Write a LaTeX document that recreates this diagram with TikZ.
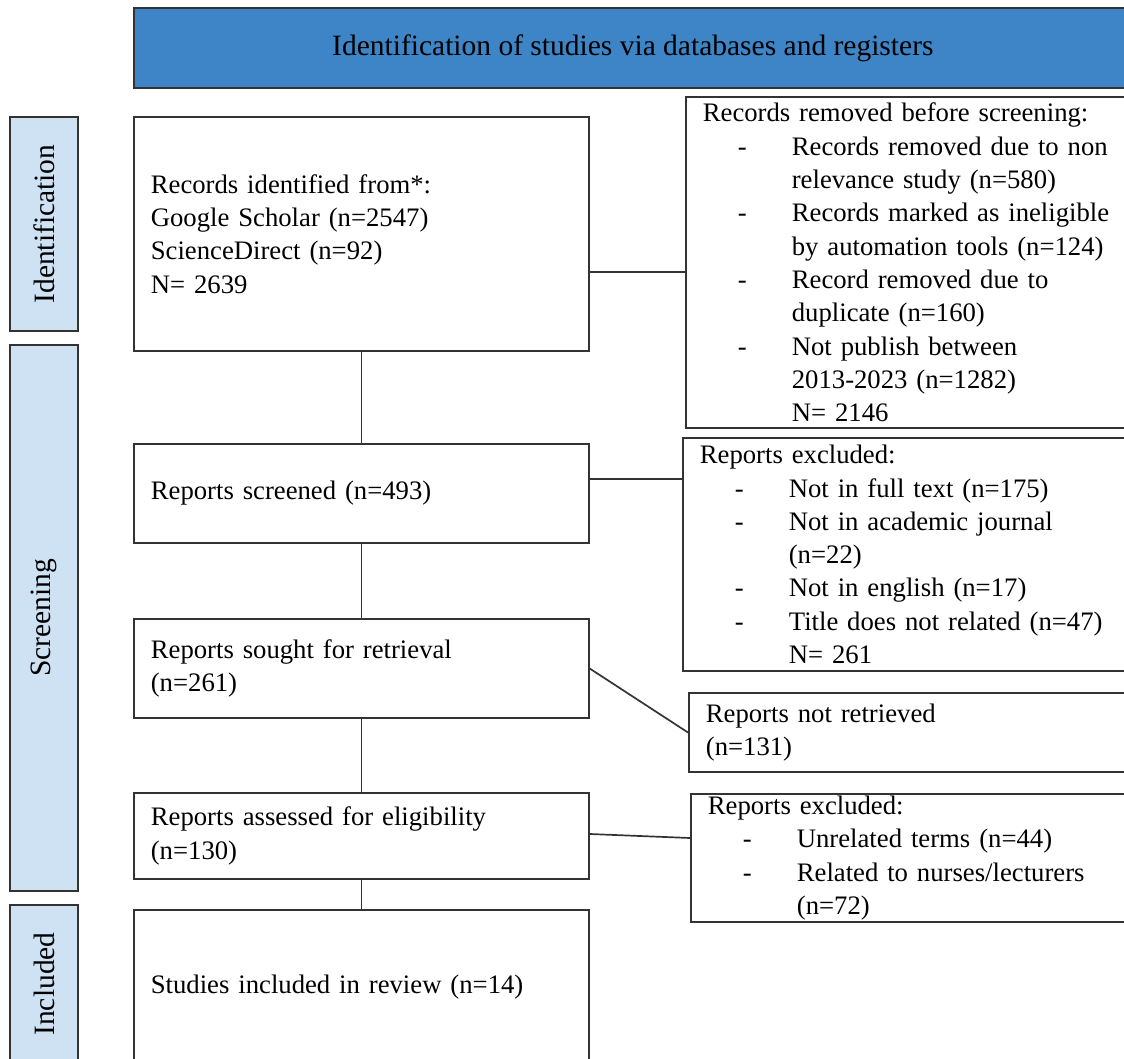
\documentclass[tikz,border=0pt]{standalone}
\usepackage{fontspec}
\setmainfont{Liberation Serif}
\definecolor{hdrblue}{HTML}{3D85C6}
\definecolor{stageblue}{HTML}{CFE2F3}
\definecolor{edge}{HTML}{333333}
\begin{document}
\begin{tikzpicture}[x=1pt,y=-1pt,
  bodytext/.style={font=\fontsize{26.7}{33.3}\selectfont},
  mainbox/.style={draw=edge, line width=1.7pt, fill=white, anchor=west,
    text width=421pt, inner xsep=17pt, inner ysep=0pt, align=left, bodytext},
  sidebox/.style={draw=edge, line width=1.7pt, fill=white, anchor=west,
    text width=440pt, inner xsep=17pt, inner ysep=0pt, align=left, bodytext},
  stagebox/.style={draw=edge, line width=1.7pt, fill=stageblue, rotate=90,
    minimum height=68pt, inner sep=0pt, font=\fontsize{29.5}{34}\selectfont},
  link/.style={draw=edge, line width=1.7pt}]
\useasboundingbox (0,0) rectangle (1124,1059);
\newcommand{\itm}[1]{\hspace*{35pt}\makebox[54pt][l]{-}#1}
\newcommand{\cnt}[1]{\hspace*{89pt}#1}
% header
\node[draw=edge, line width=1.7pt, fill=hdrblue, minimum width=998pt, minimum height=80pt,
  anchor=north west, font=\fontsize{29.5}{34}\selectfont] (hdr) at (133,7)
  {Identification of studies via databases and registers};
% stages
\node[stagebox, minimum width=214pt] (sid) at (44,224) {Identification};
\node[stagebox, minimum width=546pt] (ssc) at (44,618) {Screening};
\node[stagebox, minimum width=158pt] (sin) at (44,984) {Included};
% main boxes
\node[mainbox, minimum height=234pt] (rec) at (133,234)
  {Records identified from*:\\Google Scholar (n=2547)\\ScienceDirect (n=92)\\N= 2639};
\node[mainbox, minimum height=99pt] (scr) at (133,493.5) {Reports screened (n=493)};
\node[mainbox, minimum height=99pt] (sou) at (133,668.5) {Reports sought for retrieval\\(n=261)};
\node[mainbox, minimum height=86pt] (ass) at (133,836) {Reports assessed for eligibility\\(n=130)};
\node[mainbox, minimum height=154pt] (inc) at (133,987) {Studies included in review (n=14)};
% side boxes
\node[sidebox, minimum height=331pt] (rem) at (685,262.5)
  {Records removed before screening:\\
   \itm{Records removed due to non}\\
   \cnt{relevance study (n=580)}\\
   \itm{Records marked as ineligible}\\
   \cnt{by automation tools (n=124)}\\
   \itm{Record removed due to}\\
   \cnt{duplicate (n=160)}\\
   \itm{Not publish between}\\
   \cnt{2013-2023 (n=1282)}\\
   \cnt{N= 2146}};
\node[sidebox, minimum height=233pt] (exc1) at (682,554.5)
  {Reports excluded:\\
   \itm{Not in full text (n=175)}\\
   \itm{Not in academic journal}\\
   \cnt{(n=22)}\\
   \itm{Not in english (n=17)}\\
   \itm{Title does not related (n=47)}\\
   \cnt{N= 261}};
\node[sidebox, minimum height=79pt] (notr) at (688,732.5)
  {Reports not retrieved\\(n=131)};
\node[sidebox, minimum height=128pt] (exc2) at (690,858)
  {Reports excluded:\\
   \itm{Unrelated terms (n=44)}\\
   \itm{Related to nurses/lecturers}\\
   \cnt{(n=72)}};
% vertical connectors
\draw[link] (rec.south) -- (scr.north);
\draw[link] (scr.south) -- (sou.north);
\draw[link] (sou.south) -- (ass.north);
\draw[link] (ass.south) -- (inc.north);
% side connectors
\coordinate (c1) at ([yshift=-9.5pt]rem.west);
\draw[link] (c1 -| rec.east) -- (c1);
\coordinate (c2) at ([yshift=14.5pt]scr.east);
\draw[link] (c2) -- (c2 -| exc1.west);
\draw[link] (sou.east) -- (notr.west);
\draw[link] ([yshift=2pt]ass.east) -- ([yshift=20pt]exc2.west);
\end{tikzpicture}
\end{document}
